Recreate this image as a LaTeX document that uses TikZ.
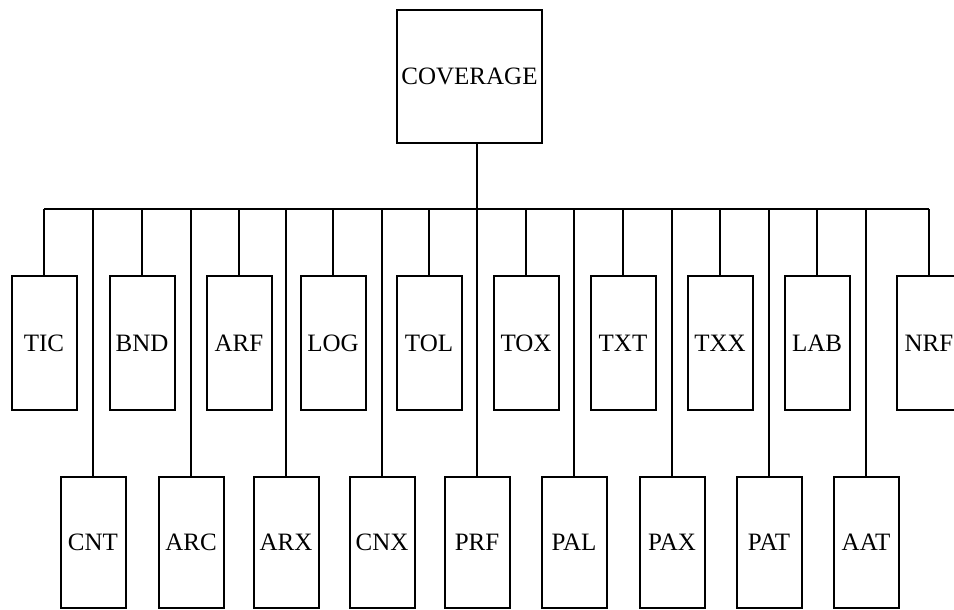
\documentclass[tikz,border=0pt]{standalone}
\usepackage{fontspec}
\setmainfont{Liberation Serif}
\usepackage{tikz}

\tikzset{
    unitbox/.style={draw,black,line width=1pt,inner sep=0pt,
        minimum width=32.5pt,minimum height=67pt,font=\fontsize{12.5}{14}\selectfont},
    lowbox/.style={unitbox,minimum height=65.5pt},
    link/.style={black,line width=1pt}
}

\begin{document}
\begin{tikzpicture}[x=0.5pt,y=-0.5pt]
        \useasboundingbox (0,0) rectangle (954,610);

        % Draw the root box
        \node[unitbox,minimum width=72.5pt,minimum height=66.5pt]
            (cov) at (469.5,76.5) {COVERAGE};

        % upper row of boxes
        \node[unitbox] (tic) at (44,343) {TIC};
        \node[unitbox] (bnd) at (142,343) {BND};
        \node[unitbox] (arf) at (239,343) {ARF};
        \node[unitbox] (log) at (333,343) {LOG};
        \node[unitbox] (tol) at (429,343) {TOL};
        \node[unitbox] (tox) at (526,343) {TOX};
        \node[unitbox] (txt) at (623,343) {TXT};
        \node[unitbox] (txx) at (720,343) {TXX};
        \node[unitbox] (lab) at (817,343) {LAB};
        \node[unitbox] (nrf) at (929,343) {NRF};

        % lower row of boxes
        \node[lowbox] (cnt) at (93,542.5) {CNT};
        \node[lowbox] (arc) at (191,542.5) {ARC};
        \node[lowbox] (arx) at (286,542.5) {ARX};
        \node[lowbox] (cnx) at (382,542.5) {CNX};
        \node[lowbox] (prf) at (477,542.5) {PRF};
        \node[lowbox] (pal) at (574,542.5) {PAL};
        \node[lowbox] (pax) at (672,542.5) {PAX};
        \node[lowbox] (pat) at (769,542.5) {PAT};
        \node[lowbox] (aat) at (866,542.5) {AAT};

        % the bus line
        \coordinate (bus) at (0,209);
        \draw[link] (tic.north |- bus) -- (nrf.north |- bus);
        \draw[link] (prf.north |- cov.south) -- (prf.north |- bus);

        % stems down to the boxes
        \foreach \n in {tic,bnd,arf,log,tol,tox,txt,txx,lab,nrf,
                        cnt,arc,arx,cnx,prf,pal,pax,pat,aat}
            \draw[link] (\n.north |- bus) -- (\n.north);
    \end{tikzpicture}
\end{document}
